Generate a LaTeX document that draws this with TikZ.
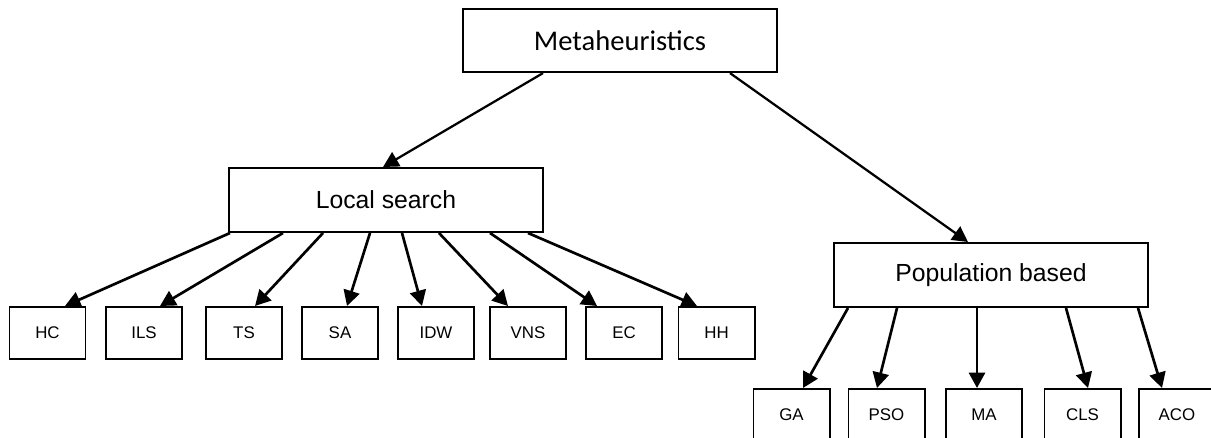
\documentclass[tikz,border=0pt]{standalone}
\usepackage{fontspec}
\setmainfont{Liberation Sans}
\newfontfamily\calibri{Carlito}
\usetikzlibrary{arrows.meta}

\begin{document}
\begin{tikzpicture}[
  x=0.025cm, y=-0.025cm,
  >={Triangle[length=11pt,width=11.5pt]},
  top/.style ={draw,line width=1.4pt,minimum width=7.85cm,minimum height=1.58cm,
               font=\calibri\fontsize{20.3}{24}\selectfont},
  group/.style={draw,line width=1.4pt,minimum width=7.85cm,minimum height=1.6cm,
               font=\fontsize{17.6}{21}\selectfont},
  leaf/.style ={draw,line width=1.4pt,minimum width=1.9cm,minimum height=1.3cm,
               font=\fontsize{12}{14}\selectfont},
  link/.style ={->,line width=1.9pt}
]
\path[use as bounding box,clip] (0,0) rectangle (1211,438);

\node[top]   (meta) at (620,40.5) {Metaheuristics};
\node[group] (ls)   at (386,200)  {Local search};
\node[group] (pb)   at (991,275)  {Population based};

% local search methods
\foreach \n/\t/\x in {hc/HC/47.5,ils/ILS/144,ts/TS/244,sa/SA/340,
                      idw/IDW/436,vns/VNS/528,ec/EC/624,hh/HH/716.5}
  \node[leaf] (\n) at (\x,333) {\t};

% population based methods
\foreach \n/\t/\x in {ga/GA/791.5,pso/PSO/886.5,ma/MA/984,cls/CLS/1082.5,aco/ACO/1177}
  \node[leaf] (\n) at (\x,415) {\t};

\draw[link,line width=1.6pt] ([shift={(-77,0)}]meta.south) -- ([shift={(-3,0)}]ls.north);
\draw[link,line width=1.6pt] ([shift={(110,0)}]meta.south) -- ([shift={(-23,0)}]pb.north);

\foreach \n/\a/\b in {hc/-156/17.5,ils/-103/16,ts/-63/11,sa/-16/7,
                      idw/16/-14,vns/53/-20,ec/104/-27,hh/142/-19.5}
  \draw[link] ([shift={(\a,0)}]ls.south) -- ([shift={(\b,0)}]\n.north);

\foreach \n/\a/\b in {ga/-143/11.5,pso/-94/-9.5,ma/-14/-7,cls/75/5.5,aco/147/-15}
  \draw[link] ([shift={(\a,0)}]pb.south) -- ([shift={(\b,0)}]\n.north);
\end{tikzpicture}
\end{document}
